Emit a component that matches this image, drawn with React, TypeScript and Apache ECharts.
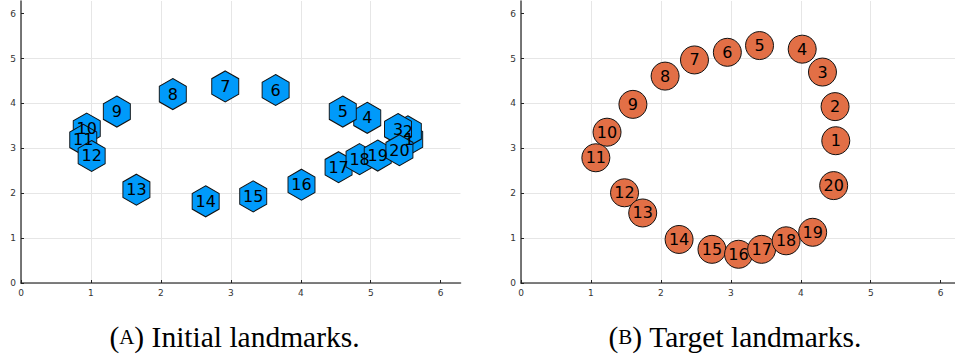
import React, { useEffect, useRef } from "react";
import * as echarts from "echarts";

// ---- data ----
const landmarkIds = [1, 2, 3, 4, 5, 6, 7, 8, 9, 10, 11, 12, 13, 14, 15, 16, 17, 18, 19, 20];

const initialX = [5.55, 5.53, 5.39, 4.95, 4.6, 3.64, 2.92, 2.17, 1.37, 0.94, 0.89, 1.01, 1.65, 2.64, 3.32, 4.01, 4.54, 4.84, 5.1, 5.41];
const initialY = [3.2, 3.38, 3.43, 3.68, 3.82, 4.3, 4.38, 4.21, 3.82, 3.44, 3.19, 2.83, 2.08, 1.82, 1.93, 2.19, 2.58, 2.76, 2.84, 2.96];

const targetX = [4.5, 4.49, 4.31, 4.02, 3.41, 2.95, 2.48, 2.06, 1.6, 1.23, 1.07, 1.48, 1.74, 2.26, 2.73, 3.11, 3.44, 3.79, 4.17, 4.47];
const targetY = [3.17, 3.93, 4.7, 5.21, 5.29, 5.14, 4.97, 4.61, 3.98, 3.36, 2.79, 2.01, 1.56, 0.97, 0.75, 0.64, 0.75, 0.94, 1.13, 2.17];

const tickValues = [0, 1, 2, 3, 4, 5, 6];
const axisMax = 6.2832;

const captionA = { letter: "A", text: " Initial landmarks." };
const captionB = { letter: "B", text: " Target landmarks." };

const HEX = "path://M0,-1 L0.866,-0.5 L0.866,0.5 L0,1 L-0.866,0.5 L-0.866,-0.5 Z";

export default function App() {
  const ref = useRef<HTMLDivElement>(null);

  useEffect(() => {
    if (!ref.current) return;
    const chart = echarts.init(ref.current, null, { renderer: "svg" });

    const plotW = 439.5;
    const pxPerUnit = plotW / axisMax;
    const rightW = 955 - 521;
    const rightMax = rightW / pxPerUnit; // right panel is cut off by the page edge

    const axisCommon = {
      type: "value" as const,
      min: 0,
      max: axisMax,
      interval: 1,
      axisLine: { show: true, onZero: false, lineStyle: { color: "#555", width: 1.6 } },
      axisTick: { show: true, inside: true, length: 3, lineStyle: { color: "#222", width: 1 }, customValues: tickValues },
      axisLabel: { customValues: tickValues, fontSize: 9, color: "#333", margin: 5, fontFamily: "DejaVu Sans" },
      splitLine: { show: true, showMaxLine: false, lineStyle: { color: "#e6e6e6", width: 1 } },
    };

    const labelCommon = {
      show: true,
      position: "inside" as const,
      formatter: (p: any) => String(p.value[2]),
      fontSize: 16,
      color: "#000",
      fontFamily: "DejaVu Sans",
    };

    const caption = (c: { letter: string; text: string }, cx: number) => ({
      type: "text",
      x: cx,
      y: 337,
      style: {
        text: `{p|(}{s|${c.letter}}{p|)}{p|${c.text}}`,
        align: "center",
        verticalAlign: "middle",
        fill: "#000",
        fontFamily: "Liberation Serif",
        fontSize: 29.5,
        rich: {
          p: { fontFamily: "Liberation Serif", fontSize: 29.5, fill: "#000" },
          s: { fontFamily: "Liberation Serif", fontSize: 21, fill: "#000" },
        },
      },
    });

    chart.setOption({
      animation: false,
      backgroundColor: "#fff",
      grid: [
        { left: 21, top: 1, width: plotW, height: 282 },
        { left: 521, top: 1, width: rightW, height: 282 },
      ],
      xAxis: [
        { ...axisCommon, gridIndex: 0 },
        { ...axisCommon, gridIndex: 1, max: rightMax },
      ],
      yAxis: [
        { ...axisCommon, gridIndex: 0 },
        { ...axisCommon, gridIndex: 1 },
      ],
      series: [
        {
          type: "scatter",
          xAxisIndex: 0,
          yAxisIndex: 0,
          symbol: HEX,
          symbolSize: [27, 31],
          data: initialX.map((x, i) => [x, initialY[i], landmarkIds[i]]),
          itemStyle: { color: "#009AFA", borderColor: "#111", borderWidth: 1, opacity: 1 },
          label: labelCommon,
          emphasis: { disabled: true },
        },
        {
          type: "scatter",
          xAxisIndex: 1,
          yAxisIndex: 1,
          symbol: "circle",
          symbolSize: 28,
          data: targetX.map((x, i) => [x, targetY[i], landmarkIds[i]]),
          itemStyle: { color: "#E26F46", borderColor: "#111", borderWidth: 1, opacity: 1 },
          label: labelCommon,
          emphasis: { disabled: true },
        },
      ],
      graphic: [caption(captionA, 234.5), caption(captionB, 735)],
    });

    return () => chart.dispose();
  }, []);

  return (
    <div
      ref={ref}
      style={{ position: "absolute", left: 0, top: 0, width: 955, height: 359 }}
    />
  );
}
